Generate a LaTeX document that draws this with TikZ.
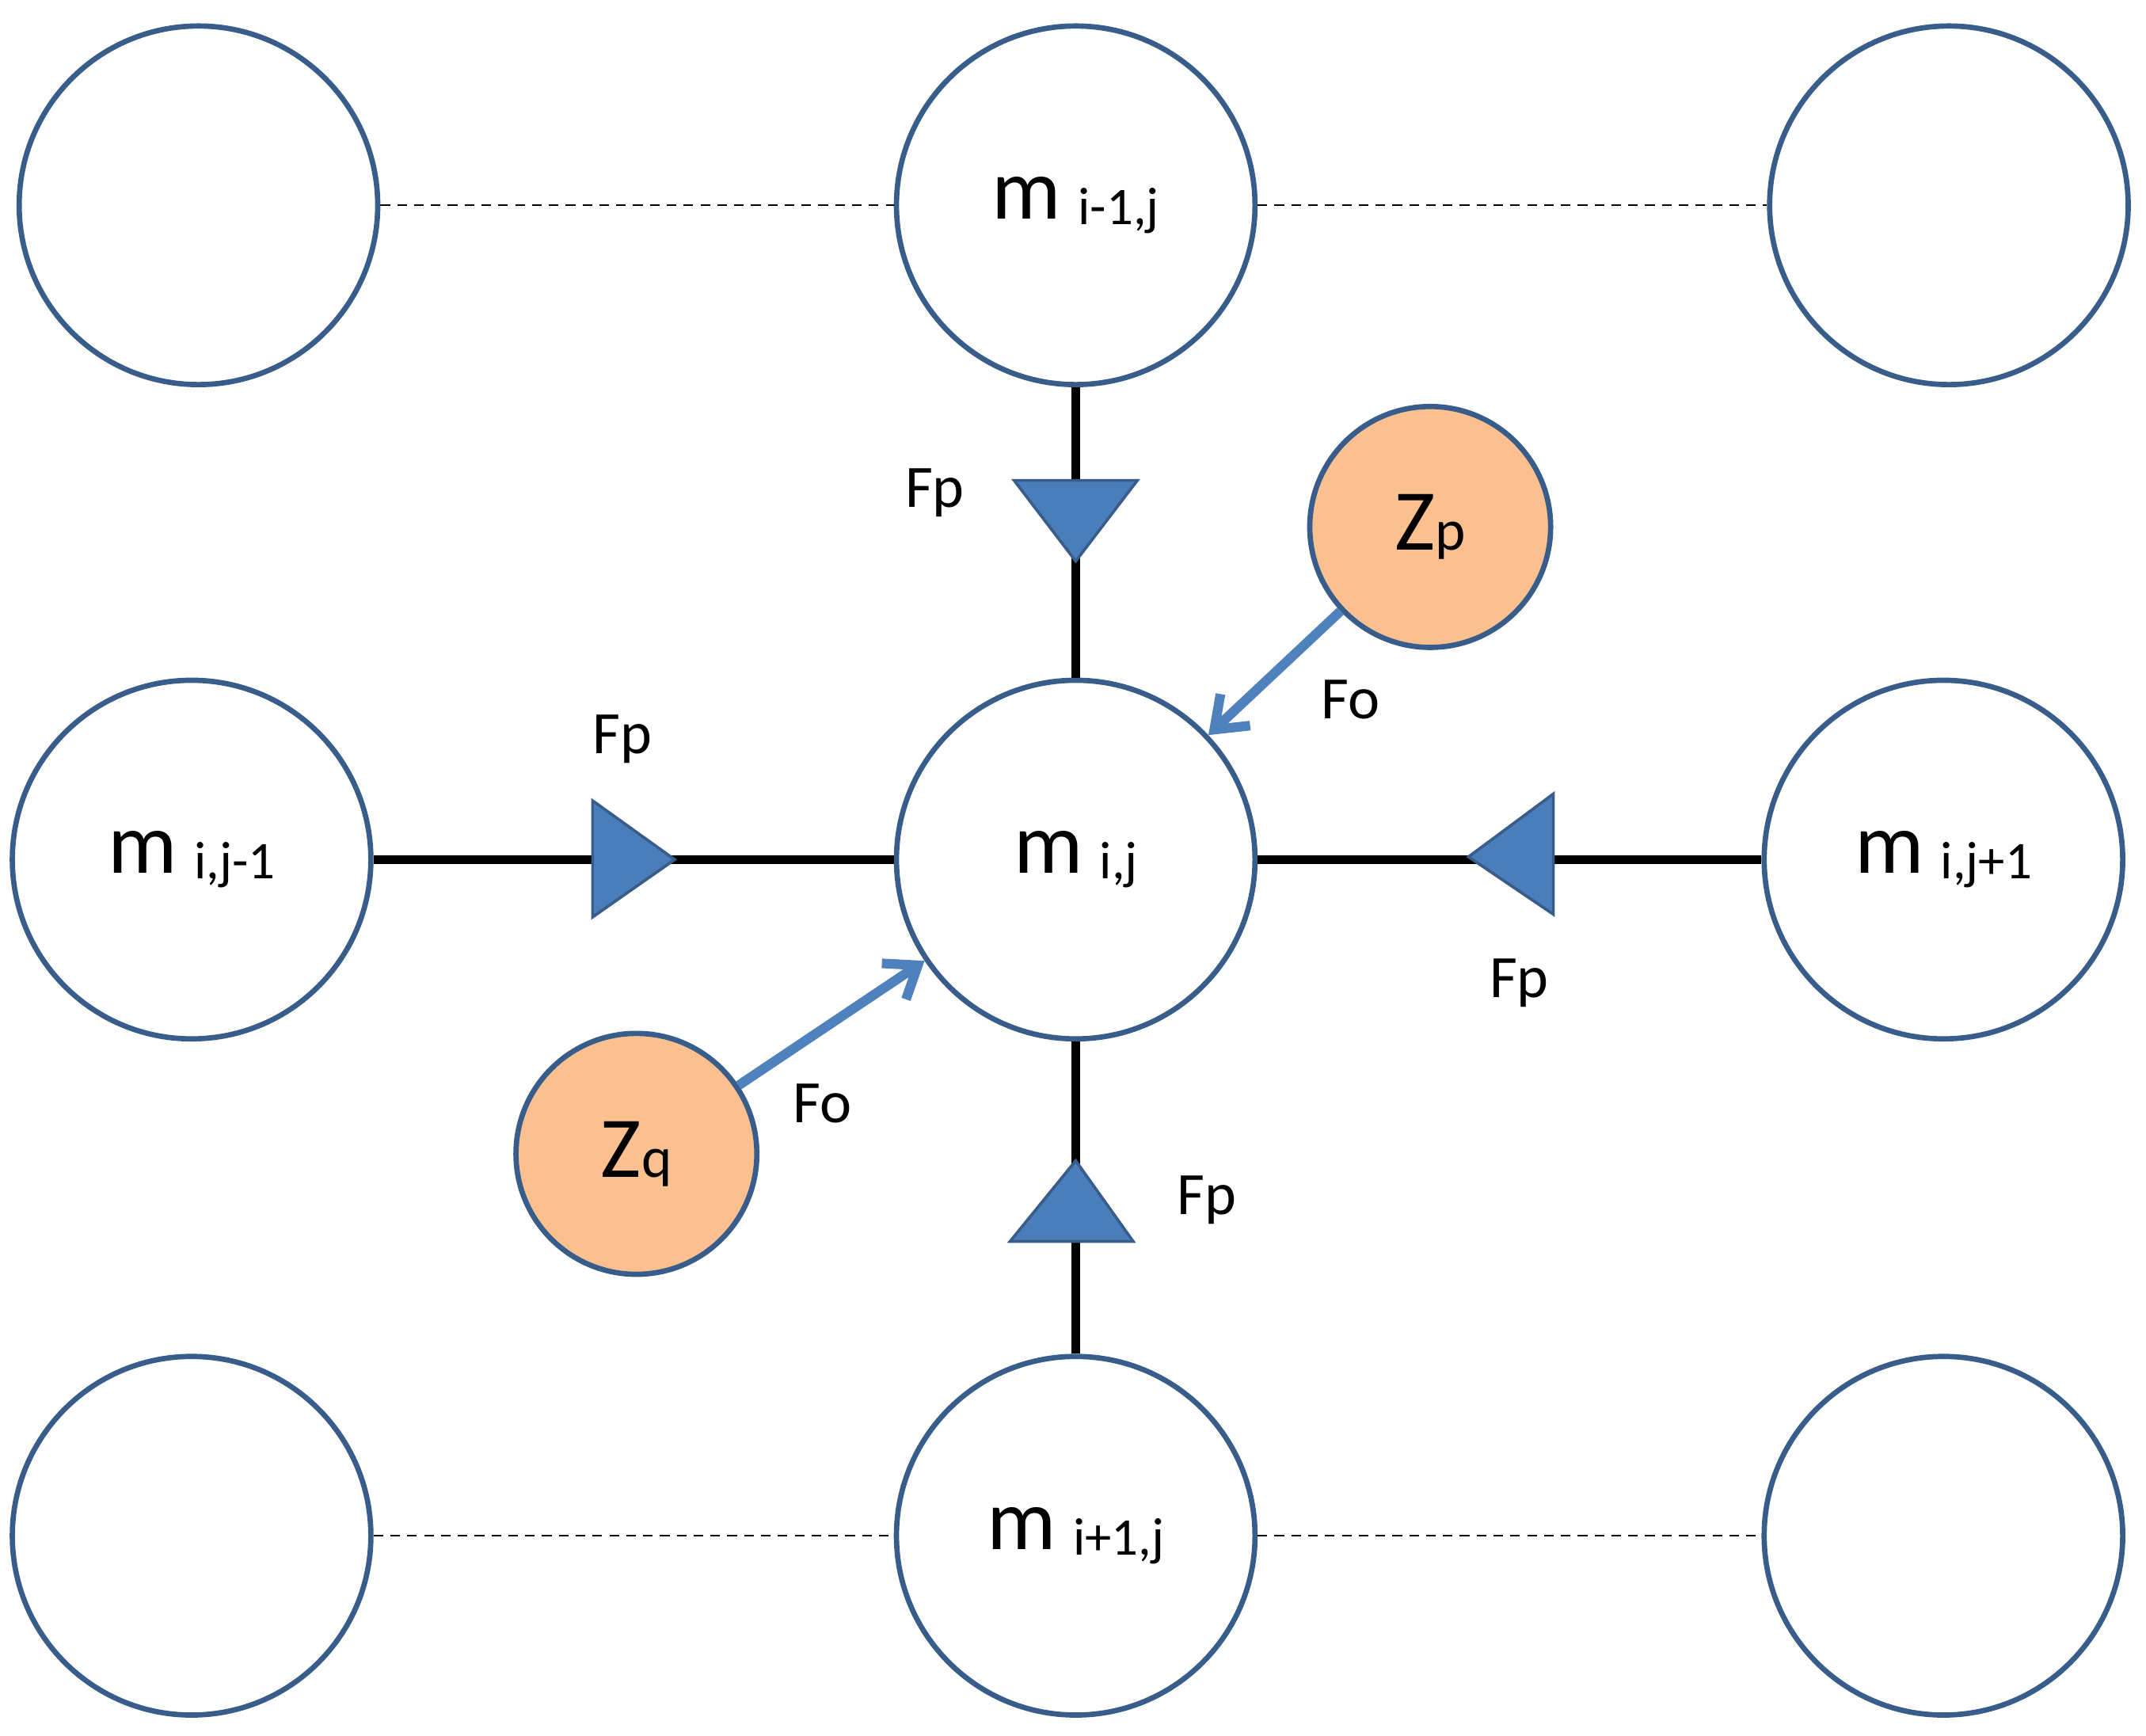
\documentclass[tikz,border=0pt]{standalone}
\usepackage{fontspec}
\setmainfont{Carlito}
\usetikzlibrary{arrows.meta}
\definecolor{cb}{RGB}{56,93,138}
\definecolor{tri}{RGB}{74,126,187}
\definecolor{ar}{RGB}{79,129,189}
\definecolor{og}{RGB}{250,192,144}
\begin{document}
\begin{tikzpicture}[x=0.01cm,y=-0.01cm,
 big/.style={circle,draw=cb,line width=1.1pt,fill=white,minimum size=262*0.01cm,inner sep=0pt},
 small/.style={circle,draw=cb,line width=1.1pt,fill=og,minimum size=176*0.01cm,inner sep=0pt},
 lbl/.style={font=\fontsize{12.5}{14}\selectfont},
 bond/.style={line width=1.7pt},
 dsh/.style={dash pattern=on 2pt off 1.5pt,line width=0.4pt},
 tr/.style={fill=tri,draw=cb,line width=0.6pt},
 fo/.style={draw=ar,line width=2pt,-{Straight Barb[length=6pt,width=9pt,line width=2pt]}}]
\useasboundingbox (0,0) rectangle (1568,1268);
\newcommand{\mlab}[1]{{\fontsize{18}{20}\selectfont m}\hspace{0.35em}\raisebox{-0.25ex}{\fontsize{11}{12}\selectfont #1}}
\node[big] (tl) at (145,150) {};
\node[big] (tm) at (786,150) {\mlab{i-1,j}};
\node[big] (tr) at (1424,150) {};
\node[big] (ml) at (140,628) {\mlab{i,j-1}};
\node[big] (c) at (786,628) {\mlab{i,j}};
\node[big] (mr) at (1420,628) {\mlab{i,j+1}};
\node[big] (bl) at (140,1122) {};
\node[big] (bm) at (786,1122) {\mlab{i+1,j}};
\node[big] (br) at (1420,1122) {};
\node[small] (zp) at (1045,385) {{\fontsize{18}{20}\selectfont Z}{\fontsize{12}{12}\selectfont p}};
\node[small] (zq) at (465,843) {{\fontsize{18}{20}\selectfont Z}{\fontsize{12}{12}\selectfont q}};
\draw[dsh] (tl) -- (tm); \draw[dsh] (tm) -- (tr);
\draw[dsh] (bl) -- (bm); \draw[dsh] (bm) -- (br);
\draw[bond] (tm) -- (c); \draw[bond] (ml) -- (c);
\draw[bond] (mr) -- (c); \draw[bond] (bm) -- (c);
\draw[tr] (741,351) -- (831,351) -- (786,410) -- cycle;
\draw[tr] (433,585) -- (493,628) -- (433,670) -- cycle;
\draw[tr] (1135,580) -- (1073,626) -- (1135,668) -- cycle;
\draw[tr] (738,907) -- (828,907) -- (786,848) -- cycle;
\draw[fo] (zp) -- (c);
\draw[fo] (zq) -- (c);
\node[lbl] (f1) at (683,360) {Fp};
\node[lbl] (f2) at (455,540) {Fp};
\node[lbl] (f3) at (1110,718) {Fp};
\node[lbl] (f4) at (882,877) {Fp};
\node[lbl] (o1) at (987,511) {Fo};
\node[lbl] (o2) at (601,806) {Fo};
\end{tikzpicture}
\end{document}
